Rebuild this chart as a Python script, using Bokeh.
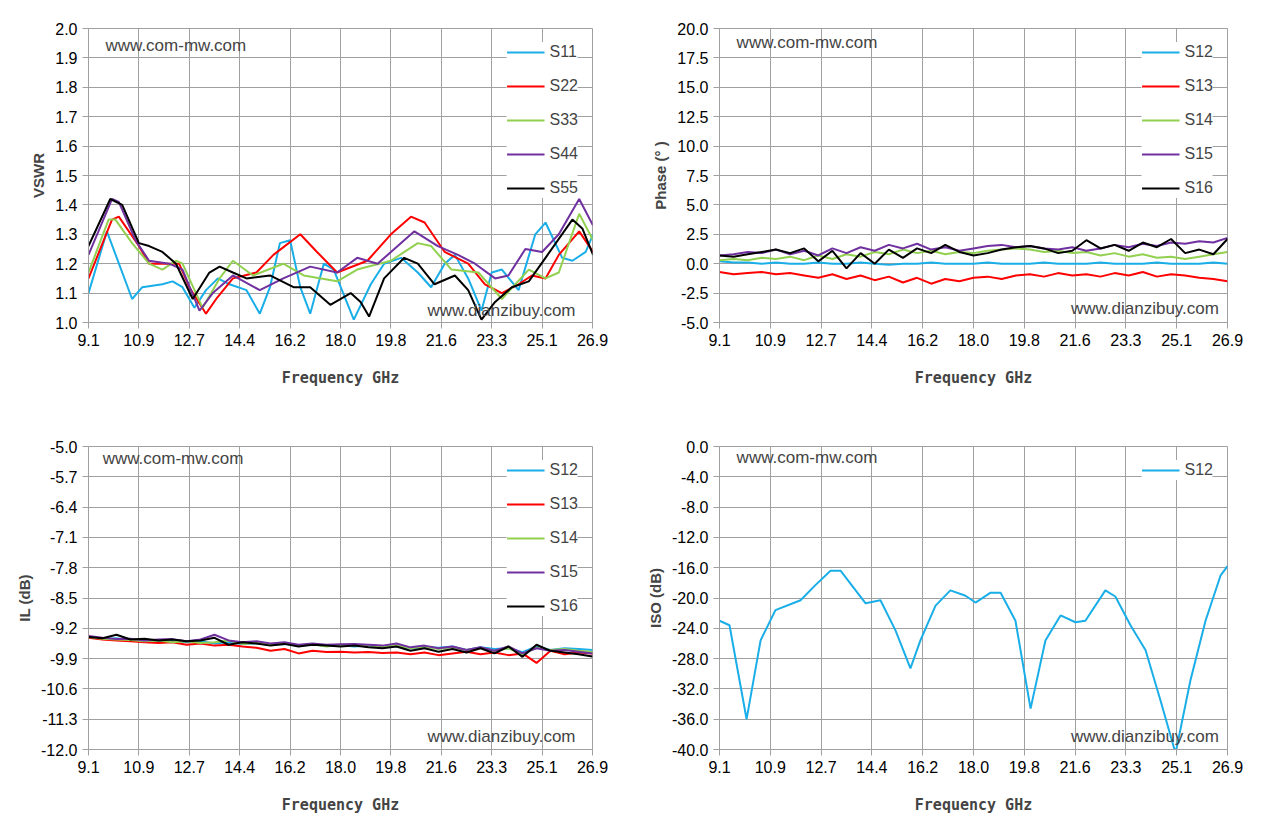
import numpy as np
from bokeh.plotting import figure
from bokeh.layouts import gridplot
from bokeh.models import FixedTicker, PrintfTickFormatter, Label, Legend, LegendItem
from bokeh.embed import file_html
from bokeh.resources import INLINE

# x axis ticks
freq_ticks = [9.1 + 1.78 * i for i in range(11)]

# VSWR (per-series frequency points)
s11_f = [9.10, 9.75, 10.64, 11.0, 11.71, 12.07, 12.42, 12.84, 13.25, 13.67, 14.08, 14.68, 15.15, 15.51, 15.86, 16.22, 16.58, 16.93, 17.41, 17.76, 18.47, 19.07, 19.54, 20.14, 20.73, 21.2, 21.68, 22.04, 22.51, 22.98, 23.34, 23.70, 24.29, 24.88, 25.24, 25.83, 26.19, 26.66, 26.92]
s11_v = [1.10, 1.31, 1.08, 1.12, 1.13, 1.14, 1.12, 1.05, 1.11, 1.15, 1.13, 1.11, 1.03, 1.12, 1.27, 1.28, 1.12, 1.03, 1.20, 1.18, 1.01, 1.13, 1.20, 1.22, 1.17, 1.12, 1.20, 1.23, 1.15, 1.04, 1.17, 1.18, 1.11, 1.30, 1.34, 1.22, 1.21, 1.24, 1.30]
s22_f = [9.10, 9.93, 10.17, 10.88, 11.24, 11.95, 12.3, 12.66, 13.25, 13.61, 14.2, 15.03, 15.63, 16.58, 17.17, 17.88, 18.95, 19.78, 20.49, 20.97, 21.68, 22.51, 23.1, 23.7, 24.29, 24.76, 25.24, 25.71, 26.43, 26.92]
s22_v = [1.15, 1.35, 1.36, 1.26, 1.20, 1.20, 1.20, 1.12, 1.03, 1.08, 1.15, 1.17, 1.23, 1.30, 1.24, 1.17, 1.21, 1.30, 1.36, 1.34, 1.24, 1.20, 1.13, 1.10, 1.13, 1.16, 1.15, 1.23, 1.31, 1.24]
s33_f = [9.10, 9.81, 10.05, 10.64, 11.24, 11.71, 12.19, 12.42, 13.13, 13.73, 14.2, 14.91, 15.98, 16.7, 17.88, 18.59, 19.78, 20.73, 21.2, 21.92, 22.87, 23.7, 24.65, 25.24, 25.71, 26.43, 26.92]
s33_v = [1.17, 1.35, 1.35, 1.27, 1.20, 1.18, 1.21, 1.20, 1.05, 1.15, 1.21, 1.16, 1.20, 1.16, 1.14, 1.18, 1.21, 1.27, 1.26, 1.18, 1.17, 1.08, 1.18, 1.15, 1.17, 1.37, 1.28]
s44_f = [9.10, 9.93, 10.17, 10.76, 11.24, 11.95, 12.42, 13.02, 13.49, 14.2, 15.15, 15.98, 16.93, 17.88, 18.59, 19.31, 20.02, 20.61, 21.44, 22.15, 22.75, 23.46, 23.93, 24.53, 25.12, 25.71, 26.43, 26.92]
s44_v = [1.23, 1.42, 1.41, 1.28, 1.21, 1.20, 1.18, 1.04, 1.10, 1.16, 1.11, 1.15, 1.19, 1.17, 1.22, 1.20, 1.26, 1.31, 1.26, 1.23, 1.20, 1.15, 1.16, 1.25, 1.24, 1.30, 1.42, 1.33]
s55_f = [9.10, 9.87, 10.29, 10.88, 11.24, 11.71, 12.19, 12.78, 13.37, 13.73, 14.2, 14.68, 15.51, 16.34, 16.93, 17.64, 18.36, 18.71, 19.01, 19.54, 20.25, 20.73, 21.32, 22.04, 22.51, 22.98, 23.46, 24.05, 24.65, 25.24, 26.19, 26.54, 26.92]
s55_v = [1.26, 1.42, 1.40, 1.27, 1.26, 1.24, 1.20, 1.08, 1.17, 1.19, 1.17, 1.15, 1.16, 1.12, 1.12, 1.06, 1.10, 1.07, 1.02, 1.15, 1.22, 1.20, 1.13, 1.16, 1.11, 1.01, 1.07, 1.12, 1.14, 1.22, 1.35, 1.32, 1.23]

# Phase (evenly spaced points across 9.1-26.9 GHz)
ph_s12 = [0.2, 0.1, 0.1, 0.0, 0.1, 0.0, 0.0, 0.1, 0.0, 0.0, 0.1, 0.0, -0.1, 0.0, 0.0, 0.1, 0.0, 0.0, 0.0, 0.1, 0.0, 0.0, 0.0, 0.1, 0.0, 0.0, 0.0, 0.1, 0.0, 0.0, 0.0, 0.1, 0.0, 0.0, 0.0, 0.1, 0.0]
ph_s13 = [-0.7, -0.9, -0.8, -0.7, -0.9, -0.8, -1.0, -1.2, -0.9, -1.3, -1.0, -1.4, -1.1, -1.6, -1.2, -1.7, -1.3, -1.5, -1.2, -1.1, -1.3, -1.0, -0.9, -1.1, -0.8, -1.0, -0.9, -1.1, -0.8, -1.0, -0.7, -1.1, -0.9, -1.0, -1.2, -1.3, -1.5]
ph_s14 = [0.3, 0.4, 0.3, 0.5, 0.4, 0.6, 0.3, 0.7, 0.4, 0.8, 0.6, 1.0, 0.8, 1.2, 0.9, 1.1, 0.8, 1.0, 0.9, 1.1, 1.2, 1.3, 1.2, 1.0, 1.1, 0.9, 1.0, 0.7, 0.9, 0.6, 0.8, 0.5, 0.6, 0.4, 0.6, 0.8, 1.0]
ph_s15 = [0.7, 0.8, 1.0, 0.9, 1.2, 0.8, 1.1, 0.7, 1.3, 0.9, 1.4, 1.1, 1.6, 1.3, 1.7, 1.2, 1.4, 1.1, 1.3, 1.5, 1.6, 1.4, 1.5, 1.3, 1.2, 1.4, 1.1, 1.3, 1.6, 1.4, 1.7, 1.5, 1.8, 1.7, 1.9, 1.8, 2.2]
ph_s16 = [0.7, 0.6, 0.8, 1.0, 1.2, 0.9, 1.3, 0.2, 1.1, -0.4, 0.9, 0.0, 1.2, 0.5, 1.3, 0.9, 1.6, 1.0, 0.7, 0.9, 1.2, 1.4, 1.5, 1.3, 0.9, 1.1, 2.0, 1.3, 1.6, 1.1, 1.8, 1.4, 2.1, 0.9, 1.2, 0.8, 2.1]

# Insertion loss
il_s12 = [-9.40, -9.45, -9.43, -9.48, -9.46, -9.50, -9.48, -9.52, -9.50, -9.55, -9.52, -9.56, -9.55, -9.58, -9.56, -9.60, -9.58, -9.60, -9.59, -9.62, -9.60, -9.63, -9.61, -9.66, -9.63, -9.65, -9.62, -9.70, -9.64, -9.68, -9.66, -9.75, -9.62, -9.70, -9.66, -9.68, -9.70]
il_s13 = [-9.42, -9.46, -9.48, -9.50, -9.52, -9.54, -9.52, -9.58, -9.55, -9.60, -9.58, -9.62, -9.65, -9.72, -9.68, -9.78, -9.72, -9.75, -9.74, -9.76, -9.75, -9.77, -9.76, -9.80, -9.76, -9.82, -9.78, -9.74, -9.80, -9.76, -9.82, -9.78, -10.0, -9.72, -9.80, -9.76, -9.78]
il_s14 = [-9.40, -9.44, -9.46, -9.47, -9.50, -9.48, -9.52, -9.50, -9.54, -9.52, -9.48, -9.56, -9.54, -9.58, -9.55, -9.60, -9.57, -9.62, -9.58, -9.60, -9.59, -9.63, -9.60, -9.66, -9.62, -9.68, -9.64, -9.70, -9.65, -9.72, -9.66, -9.80, -9.65, -9.70, -9.68, -9.72, -9.75]
il_s15 = [-9.38, -9.42, -9.45, -9.44, -9.48, -9.46, -9.45, -9.50, -9.46, -9.35, -9.48, -9.52, -9.50, -9.55, -9.52, -9.58, -9.55, -9.58, -9.57, -9.56, -9.58, -9.60, -9.55, -9.64, -9.60, -9.66, -9.62, -9.70, -9.64, -9.72, -9.62, -9.78, -9.66, -9.72, -9.70, -9.74, -9.78]
il_s16 = [-9.40, -9.43, -9.35, -9.46, -9.44, -9.48, -9.46, -9.50, -9.48, -9.42, -9.58, -9.52, -9.55, -9.60, -9.56, -9.62, -9.58, -9.60, -9.62, -9.60, -9.64, -9.66, -9.62, -9.72, -9.66, -9.74, -9.68, -9.76, -9.66, -9.78, -9.62, -9.86, -9.58, -9.72, -9.76, -9.80, -9.85]

# Isolation
iso_f = [9.10, 9.45, 10.05, 10.54, 11.06, 11.94, 12.46, 12.99, 13.34, 13.87, 14.22, 14.74, 15.27, 15.79, 16.14, 16.67, 17.19, 17.72, 18.07, 18.6, 18.95, 19.47, 20.0, 20.52, 21.05, 21.57, 21.92, 22.62, 22.97, 23.5, 24.03, 24.55, 25.08, 25.6, 26.13, 26.66, 26.9]
iso_v = [-23.0, -23.6, -36.0, -25.6, -21.6, -20.3, -18.3, -16.4, -16.4, -19.0, -20.7, -20.3, -24.3, -29.3, -25.6, -21.0, -19.0, -19.7, -20.6, -19.3, -19.3, -23.0, -34.6, -25.6, -22.3, -23.2, -23.0, -19.0, -19.8, -23.6, -26.9, -33.5, -40.5, -30.9, -23.0, -17.0, -15.8]

C = {"blue": "#1aaee8", "red": "#ff0000", "green": "#92d050", "purple": "#7030a0", "black": "#000000"}
GRID = "#a0a0a0"


def make_fig(w, h, left, right, top, bottom, yr, yticks, ylabel):
    p = figure(width=w, height=h, x_range=(9.1, 26.9), y_range=yr,
               output_backend="svg", toolbar_location=None,
               min_border_left=left, min_border_right=right,
               min_border_top=top, min_border_bottom=bottom)
    p.xaxis.ticker = FixedTicker(ticks=freq_ticks)
    p.xaxis.formatter = PrintfTickFormatter(format="%.1f")
    p.yaxis.ticker = FixedTicker(ticks=yticks)
    p.yaxis.formatter = PrintfTickFormatter(format="%.1f")
    p.xaxis.axis_label = "Frequency GHz"
    p.yaxis.axis_label = ylabel
    p.xaxis.axis_label_standoff = 20
    p.xaxis.axis_label_text_font = "DejaVu Sans Mono"
    p.xaxis.axis_label_text_font_style = "bold"
    p.xaxis.axis_label_text_font_size = "15px"
    p.yaxis.axis_label_text_font = "Liberation Sans"
    p.yaxis.axis_label_text_font_style = "bold"
    p.yaxis.axis_label_text_font_size = "15px"
    for ax in (p.xaxis, p.yaxis):
        ax.major_label_text_font = "Liberation Sans"
        ax.major_label_text_font_size = "16px"
        ax.major_label_text_color = "#000000"
        ax.axis_line_color = GRID
        ax.major_tick_line_color = GRID
        ax.major_tick_out = 6
        ax.major_tick_in = 0
        ax.minor_tick_line_color = None
    p.grid.grid_line_color = GRID
    p.grid.grid_line_alpha = 1.0
    p.outline_line_color = GRID
    p.background_fill_color = "white"
    return p


def add_legend(p, items):
    leg = Legend(items=items, location="top_right", border_line_color=None,
                 background_fill_color="white", background_fill_alpha=1.0,
                 label_text_font="Liberation Sans", label_text_font_size="16px",
                 glyph_width=38, glyph_height=20, label_height=20, spacing=14,
                 padding=6, margin=14)
    p.add_layout(leg)


def add_marks(p, xl, yl, xr, yr):
    p.add_layout(Label(x=xl, y=yl, text="www.com-mw.com", text_font="Liberation Sans",
                       text_font_size="17px", text_baseline="top"))
    p.add_layout(Label(x=xr, y=yr, text="www.dianzibuy.com", text_font="Liberation Sans",
                       text_font_size="17px", text_align="right", text_baseline="bottom"))


def lines(p, series):
    items = []
    for name, xs, ys, col in series:
        r = p.line(xs, ys, line_color=col, line_width=2)
        items.append(LegendItem(label=name, renderers=[r]))
    return items


# VSWR
p1 = make_fig(630, 415, 88, 38, 10, 93, (1.0, 2.0), [1.0 + 0.1 * i for i in range(11)], "VSWR")
it = lines(p1, [("S11", s11_f, s11_v, C["blue"]), ("S22", s22_f, s22_v, C["red"]),
                ("S33", s33_f, s33_v, C["green"]), ("S44", s44_f, s44_v, C["purple"]),
                ("S55", s55_f, s55_v, C["black"])])
add_legend(p1, it)
add_marks(p1, 9.7, 1.975, 26.3, 1.01)

# Phase
xp = np.linspace(9.1, 26.9, len(ph_s12))
p2 = make_fig(615, 415, 89, 18, 28, 80, (-5, 20), [-5 + 2.5 * i for i in range(11)], "Phase (° )")
it = lines(p2, [("S12", xp, ph_s12, C["blue"]), ("S13", xp, ph_s13, C["red"]),
                ("S14", xp, ph_s14, C["green"]), ("S15", xp, ph_s15, C["purple"]),
                ("S16", xp, ph_s16, C["black"])])
add_legend(p2, it)
add_marks(p2, 9.7, 19.6, 26.6, -4.6)

# IL
xi = np.linspace(9.1, 26.9, len(il_s12))
p3 = make_fig(630, 405, 88, 38, 31, 71, (-12, -5), [-12 + 0.7 * i for i in range(11)], "IL (dB)")
it = lines(p3, [("S12", xi, il_s12, C["blue"]), ("S13", xi, il_s13, C["red"]),
                ("S14", xi, il_s14, C["green"]), ("S15", xi, il_s15, C["purple"]),
                ("S16", xi, il_s16, C["black"])])
add_legend(p3, it)
add_marks(p3, 9.6, -5.05, 26.3, -11.92)

# ISO
p4 = make_fig(615, 405, 89, 18, 31, 71, (-40, 0), [-40 + 4 * i for i in range(11)], "ISO (dB)")
it = lines(p4, [("S12", iso_f, iso_v, C["blue"])])
add_legend(p4, it)
add_marks(p4, 9.7, -0.2, 26.6, -39.6)

grid = gridplot([[p1, p2], [p3, p4]], toolbar_location=None)
open("out.html", "w").write(file_html(grid, INLINE))
